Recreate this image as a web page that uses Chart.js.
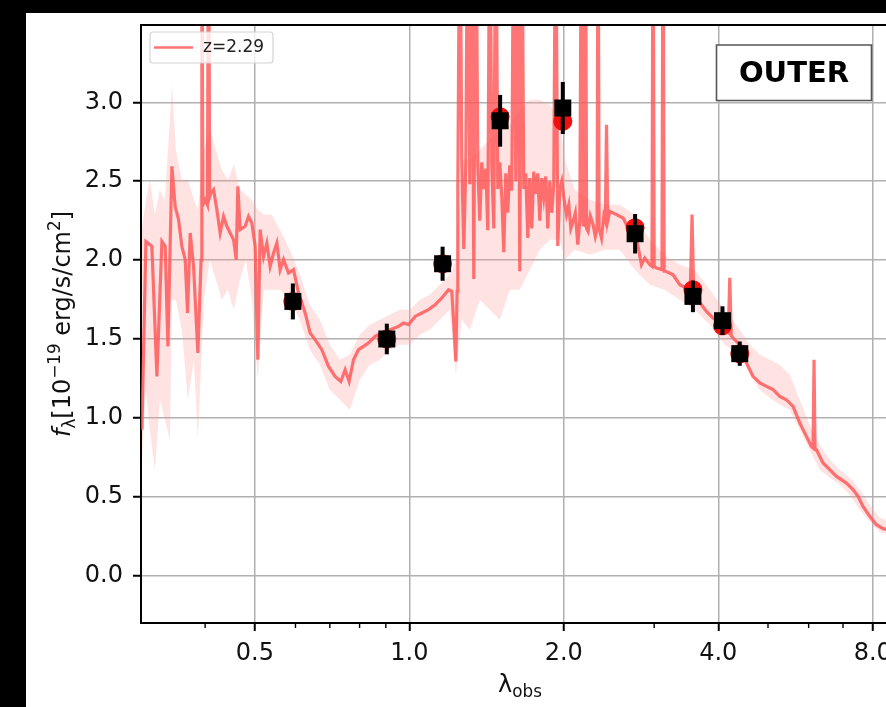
<!DOCTYPE html>
<html>
<head>
<meta charset="utf-8">
<script src="https://cdn.jsdelivr.net/npm/chart.js@4.4.1/dist/chart.umd.min.js"></script>
<style>
  html, body { margin: 0; padding: 0; background: #000; overflow: hidden; width: 886px; height: 707px; }
  #frame { position: absolute; left: 26px; top: 13px; width: 900px; height: 694px; background: #fff; }
  #sed { display: block; }
</style>
</head>
<body>
<div id="frame"><canvas id="sed" width="900" height="694"></canvas></div>
<script>
// observed-frame wavelength (micron) and model spectrum flux (1e-19 erg/s/cm2)
const specWave = [
  0.3012, 0.3067, 0.3150, 0.3222, 0.3295, 0.3344, 0.3385, 0.3446, 0.3497, 0.3551,
  0.3604, 0.3658, 0.3697, 0.3741, 0.3798, 0.3872, 0.3928, 0.3942, 0.3960, 0.4001,
  0.4041, 0.4063, 0.4082, 0.4105, 0.4155, 0.4217, 0.4279, 0.4345, 0.4410, 0.4476,
  0.4545, 0.4598, 0.4633, 0.4681, 0.4787, 0.4861, 0.4933, 0.5007, 0.5068, 0.5120,
  0.5199, 0.5277, 0.5355, 0.5438, 0.5519, 0.5601, 0.5687, 0.5816, 0.5948, 0.6083,
  0.6266, 0.6408, 0.6553, 0.6753, 0.6959, 0.7168, 0.7354, 0.7497, 0.7633, 0.7785,
  0.7961, 0.8142, 0.8327, 0.8576, 0.8838, 0.9173, 0.9526, 0.9742, 0.9964, 1.0264,
  1.0577, 1.0900, 1.1227, 1.1570, 1.1923, 1.2101, 1.2209, 1.2320, 1.2392,
  1.2431, 1.2543, 1.2656, 1.2770, 1.2885, 1.3001, 1.3118, 1.3236, 1.3355, 1.3476,
  1.3597, 1.3720, 1.3843, 1.3968, 1.4094, 1.4221, 1.4349, 1.4478, 1.4609, 1.4740,
  1.4873, 1.5007, 1.5142, 1.5279, 1.5416, 1.5555, 1.5695, 1.5837, 1.5980, 1.6124,
  1.6269, 1.6415, 1.6563, 1.6712, 1.6863, 1.7015, 1.7168, 1.7323, 1.7479, 1.7636,
  1.7795, 1.7955, 1.8117, 1.8280, 1.8445, 1.8611, 1.8779, 1.8948, 1.9119, 1.9291,
  1.9465, 1.9640, 1.9817, 1.9996,
  2.0245, 2.0454, 2.0640, 2.0853, 2.1060, 2.1297, 2.1489, 2.1654, 2.1809, 2.1956,
  2.2046, 2.2155, 2.2304, 2.2526, 2.2810, 2.3036, 2.3223, 2.3327, 2.3432, 2.3686,
  2.3930, 2.4093, 2.4224, 2.4365, 2.4584, 2.5334, 2.6095, 2.6891, 2.7712, 2.8341,
  2.8763, 2.9415, 2.9707, 2.9853, 3.0000, 3.0313, 3.1070, 3.1222, 3.1376, 3.1703,
  3.2655, 3.3651, 3.4679, 3.5274, 3.5560, 3.5830, 3.6269, 3.7933, 3.9677, 4.1502,
  4.1835, 4.2120, 4.2405, 4.2744, 4.4052, 4.5396, 4.6758, 4.8186, 4.9656, 5.1146,
  5.2709, 5.4317, 5.5946, 5.7655, 5.9414, 6.0762, 6.1196, 6.1473, 6.1750, 6.2139,
  6.4003, 6.5958, 6.7970, 7.1089, 7.3221, 7.4882, 7.6579, 7.8924, 8.1344, 8.3784,
  8.9493
];
const specFlux = [
  0.925, 2.118, 2.087, 1.263, 2.118, 2.087, 1.453, 2.594, 2.340, 2.256,
  2.087, 2.003, 1.665, 2.172, 1.960, 1.411, 2.000, 4.500, 2.350, 2.383,
  2.350, 4.500, 2.400, 2.425, 2.446, 2.319, 2.172, 2.277, 2.214, 2.172,
  2.129, 2.003, 2.467, 2.193, 2.214, 2.277, 2.235, 2.087, 1.369, 2.193,
  2.023, 2.108, 1.960, 2.045, 2.108, 1.939, 2.003, 1.918, 1.939, 1.791,
  1.665, 1.538, 1.496, 1.432, 1.326, 1.263, 1.231, 1.305, 1.231, 1.369,
  1.432, 1.453, 1.475, 1.517, 1.538, 1.559, 1.580, 1.601, 1.591, 1.643,
  1.665, 1.686, 1.717, 1.760, 1.812, 1.802, 1.591, 1.358, 1.802,
  2.450, 4.500, 2.600, 2.070, 2.620, 4.500, 2.480, 4.500, 1.880, 4.500,
  2.600, 2.250, 2.620, 2.450, 2.580, 2.190, 4.500, 2.600, 2.200, 4.500,
  2.450, 2.620, 2.400, 2.050, 2.550, 2.300, 2.600, 2.440, 4.500, 2.500,
  4.500, 1.930, 4.500, 2.450, 2.550, 2.140, 2.520, 2.200, 2.560, 2.420,
  2.550, 2.250, 2.520, 2.400, 2.530, 2.200, 2.500, 2.300, 2.480, 4.500,
  2.090, 2.450, 2.500, 2.400,
  2.288, 2.351, 2.200, 2.245, 2.300, 2.098, 2.250, 4.500, 2.224, 2.220,
  4.500, 2.200, 2.182, 2.280, 2.224, 2.150, 2.200, 4.500, 2.200, 2.140,
  2.280, 2.250, 2.858, 2.250, 2.309, 2.288, 2.267, 2.182, 2.140, 1.971,
  2.013, 1.971, 1.960, 4.500, 1.960, 1.950, 1.940, 4.500, 1.930, 1.928,
  1.907, 1.844, 1.823, 1.800, 2.288, 1.774, 1.760, 1.675, 1.612, 1.548,
  1.540, 1.888, 1.521, 1.506, 1.464, 1.348, 1.263, 1.221, 1.200, 1.179,
  1.136, 1.115, 1.073, 0.968, 0.883, 0.819, 0.810, 1.369, 0.800, 0.798,
  0.714, 0.672, 0.629, 0.587, 0.545, 0.503, 0.439, 0.376, 0.323, 0.298,
  0.279
];

// spread of the model spectrum (lower / upper envelope)
const bandWave = [
  0.3012, 0.3067, 0.3122, 0.3193, 0.3265, 0.3339, 0.3415, 0.3446, 0.3508, 0.3604,
  0.3702, 0.3803, 0.3872, 0.3978, 0.4086, 0.4198, 0.4312, 0.4430, 0.4550, 0.4675,
  0.4802, 0.4933, 0.5068, 0.5206, 0.5397, 0.5593, 0.5850, 0.6118, 0.6399, 0.6693,
  0.6999, 0.7321, 0.7656, 0.8008, 0.8375, 0.8759, 0.9161, 0.9581, 1.0022, 1.0483,
  1.0963, 1.1466, 1.1992, 1.2320, 1.2656, 1.3118, 1.3719, 1.4349, 1.5007, 1.5695,
  1.6415, 1.7168, 1.7956, 1.8779, 1.9641, 2.0091, 2.1012, 2.2475, 2.4039, 2.5712,
  2.7501, 2.9415, 3.1462, 3.3651, 3.5993, 3.8498, 4.1186, 4.4052, 4.6073, 4.8186,
  5.0397, 5.2709, 5.5126, 5.7655, 6.0299, 6.3066, 6.5958, 6.8984, 7.2148, 7.5458,
  7.8924, 8.2373, 9.0102
];
const bandHigh = [
  2.193, 2.383, 2.510, 2.288, 2.446, 2.383, 2.890, 3.112, 2.700, 2.510,
  2.510, 2.383, 2.319, 2.700, 2.826, 2.700, 2.573, 2.510, 2.605, 2.446,
  2.414, 2.383, 2.319, 2.288, 2.288, 2.193, 2.066, 1.907, 1.717, 1.622,
  1.464, 1.369, 1.401, 1.527, 1.591, 1.622, 1.654, 1.686, 1.686, 1.749,
  1.781, 1.844, 1.907, 2.003, 2.636, 2.636, 2.700, 2.763, 2.826, 2.858,
  2.953, 3.016, 3.016, 2.985, 2.890, 2.636, 2.446, 2.383, 2.351, 2.351,
  2.288, 2.129, 2.034, 1.971, 1.939, 1.812, 1.686, 1.559, 1.464, 1.401,
  1.369, 1.337, 1.274, 1.115, 0.957, 0.830, 0.735, 0.672, 0.621, 0.545,
  0.450, 0.368, 0.323
];
const bandLow = [
  0.735, 1.179, 0.925, 0.672, 1.115, 0.989, 0.862, 1.749, 1.749, 1.559,
  1.115, 1.369, 0.862, 1.749, 2.003, 1.876, 1.749, 1.812, 1.686, 1.876,
  2.003, 1.749, 1.242, 1.812, 1.812, 1.812, 1.749, 1.622, 1.432, 1.337,
  1.179, 1.115, 1.052, 1.242, 1.337, 1.369, 1.432, 1.464, 1.464, 1.527,
  1.559, 1.622, 1.686, 1.274, 1.622, 1.559, 1.749, 1.686, 1.622, 1.812,
  1.812, 1.939, 2.066, 2.129, 2.129, 2.003, 2.066, 2.034, 2.066, 2.066,
  1.939, 1.844, 1.812, 1.749, 1.686, 1.591, 1.464, 1.401, 1.274, 1.179,
  1.128, 1.084, 1.052, 0.925, 0.798, 0.672, 0.621, 0.577, 0.513, 0.418,
  0.342, 0.279, 0.241
];

// broad-band photometry: observed (black squares) and model (red circles)
const photWave  = [0.593, 0.904, 1.161, 1.503, 1.991, 2.754, 3.570, 4.076, 4.405];
const photFlux  = [1.738, 1.500, 1.977, 2.883, 2.964, 2.167, 1.770, 1.616, 1.407];
const photErr   = [0.114, 0.097, 0.108, 0.164, 0.165, 0.125, 0.100, 0.091, 0.077];
const modelFlux = [1.738, 1.500, 1.977, 2.909, 2.879, 2.205, 1.812, 1.584, 1.407];

const xMajor = [0.5, 1, 2, 4, 8];
const xMinor = [0.4, 0.6, 0.7, 0.8, 0.9, 3, 5, 6, 7];
const yTicks = [0, 0.5, 1, 1.5, 2, 2.5, 3];

const legendLabel = 'z=2.29';
const regionLabel = 'OUTER';

const FONT = '"DejaVu Sans", sans-serif';
const lineColor = 'rgba(255, 85, 85, 0.82)';
const gridColor = '#b0b0b0';

const pts = (xs, ys) => xs.map((v, i) => ({ x: v, y: ys[i] }));

// draws a run of text pieces (sub/superscripts) centred on the origin
function drawPieces(ctx, pieces) {
  let total = 0;
  pieces.forEach(p => { ctx.font = p.font; p.w = ctx.measureText(p.t).width; total += p.w; });
  let cx = -total / 2;
  pieces.forEach(p => {
    ctx.font = p.font;
    ctx.fillText(p.t, cx, p.dy);
    cx += p.w;
  });
}

const sedDecor = {
  id: 'sedDecor',
  afterDatasetsDraw(chart) {
    const { ctx, scales: { x, y } } = chart;
    ctx.save();
    ctx.strokeStyle = '#000';
    ctx.lineWidth = 4;
    photWave.forEach((w, i) => {
      const px = x.getPixelForValue(w);
      ctx.beginPath();
      ctx.moveTo(px, y.getPixelForValue(photFlux[i] - photErr[i]));
      ctx.lineTo(px, y.getPixelForValue(photFlux[i] + photErr[i]));
      ctx.stroke();
    });
    ctx.restore();
  },
  afterDraw(chart) {
    const { ctx, chartArea: a, scales: { x } } = chart;
    ctx.save();

    // top spine
    ctx.strokeStyle = '#000';
    ctx.lineWidth = 2;
    ctx.beginPath();
    ctx.moveTo(a.left - 1, a.top);
    ctx.lineTo(a.right + 1, a.top);
    ctx.stroke();

    // minor ticks on the log axis
    ctx.lineWidth = 1.4;
    xMinor.forEach(v => {
      const px = x.getPixelForValue(v);
      ctx.beginPath();
      ctx.moveTo(px, a.bottom);
      ctx.lineTo(px, a.bottom + 5);
      ctx.stroke();
    });

    // legend
    ctx.fillStyle = 'rgba(255,255,255,0.8)';
    ctx.strokeStyle = '#d4d4d4';
    ctx.lineWidth = 1.2;
    ctx.beginPath();
    ctx.roundRect(a.left + 9, a.top + 7, 123, 31, 3);
    ctx.fill();
    ctx.stroke();
    ctx.strokeStyle = lineColor;
    ctx.lineWidth = 2.5;
    ctx.beginPath();
    ctx.moveTo(a.left + 13, a.top + 22.5);
    ctx.lineTo(a.left + 52, a.top + 22.5);
    ctx.stroke();
    ctx.fillStyle = '#222';
    ctx.font = '17px ' + FONT;
    ctx.textBaseline = 'middle';
    ctx.fillText(legendLabel, a.left + 62, a.top + 23);

    // region tag
    ctx.fillStyle = '#fff';
    ctx.strokeStyle = '#555';
    ctx.lineWidth = 1.6;
    ctx.beginPath();
    ctx.rect(690.5, 32, 155, 55.5);
    ctx.fill();
    ctx.stroke();
    ctx.fillStyle = '#000';
    ctx.font = 'bold 29px ' + FONT;
    ctx.textAlign = 'center';
    ctx.fillText(regionLabel, 768, 61);

    // axis titles
    ctx.textBaseline = 'alphabetic';
    ctx.textAlign = 'left';
    ctx.fillStyle = '#111';
    ctx.save();
    ctx.translate((a.left + a.right) / 2, 679);
    drawPieces(ctx, [
      { t: 'λ', font: '24px ' + FONT, dy: 0 },
      { t: 'obs', font: '16.8px ' + FONT, dy: 5 }
    ]);
    ctx.restore();

    ctx.save();
    ctx.translate(44, (a.top + a.bottom) / 2);
    ctx.rotate(-Math.PI / 2);
    drawPieces(ctx, [
      { t: 'f', font: 'italic 24px ' + FONT, dy: 0 },
      { t: 'λ', font: '16.8px ' + FONT, dy: 5 },
      { t: '[10', font: '24px ' + FONT, dy: 0 },
      { t: '\u221219', font: '16.8px ' + FONT, dy: -10 },
      { t: ' erg/s/cm', font: '24px ' + FONT, dy: 0 },
      { t: '2', font: '16.8px ' + FONT, dy: -10 },
      { t: ']', font: '24px ' + FONT, dy: 0 }
    ]);
    ctx.restore();

    ctx.restore();
  }
};

new Chart(document.getElementById('sed'), {
  type: 'line',
  data: {
    datasets: [
      {
        label: 'observed',
        data: pts(photWave, photFlux),
        showLine: false,
        pointStyle: 'rect',
        pointRadius: 12,
        pointBackgroundColor: '#000',
        pointBorderWidth: 0
      },
      {
        label: 'model photometry',
        data: pts(photWave, modelFlux),
        showLine: false,
        pointStyle: 'circle',
        pointRadius: 9.5,
        pointBackgroundColor: '#f01010',
        pointBorderWidth: 0
      },
      {
        label: legendLabel,
        data: pts(specWave, specFlux),
        borderColor: lineColor,
        borderWidth: 3.2,
        pointRadius: 0,
        tension: 0
      },
      {
        label: 'upper',
        data: pts(bandWave, bandHigh),
        borderWidth: 0,
        pointRadius: 0,
        fill: '+1',
        backgroundColor: 'rgba(255, 150, 150, 0.28)'
      },
      {
        label: 'lower',
        data: pts(bandWave, bandLow),
        borderWidth: 0,
        pointRadius: 0
      }
    ]
  },
  options: {
    responsive: false,
    animation: false,
    layout: { padding: { left: 0, right: 27, top: 12, bottom: 0 } },
    plugins: { legend: { display: false }, tooltip: { enabled: false } },
    scales: {
      x: {
        type: 'logarithmic',
        min: 0.3,
        max: 9.0,
        afterBuildTicks: s => { s.ticks = xMajor.concat(xMinor).sort((p, q) => p - q).map(v => ({ value: v })); },
        afterFit: s => { s.height = 84; s.paddingLeft = 0; s.paddingRight = 0; },
        ticks: {
          autoSkip: false,
          maxRotation: 0,
          padding: 8,
          color: '#111',
          font: { family: FONT, size: 24 },
          callback: v => xMajor.includes(v) ? v.toFixed(1) : ''
        },
        grid: {
          color: c => (c.tick && xMajor.includes(c.tick.value)) ? gridColor : 'rgba(0,0,0,0)',
          lineWidth: 1.5,
          tickLength: 8,
          tickWidth: 2,
          tickColor: c => (c.tick && xMajor.includes(c.tick.value)) ? '#000' : 'rgba(0,0,0,0)'
        },
        border: { color: '#000', width: 2 }
      },
      y: {
        type: 'linear',
        min: -0.3,
        max: 3.49,
        afterBuildTicks: s => { s.ticks = yTicks.map(v => ({ value: v })); },
        afterFit: s => { s.width = 115; s.paddingTop = 0; s.paddingBottom = 0; },
        ticks: {
          padding: 10,
          color: '#111',
          font: { family: FONT, size: 24 },
          callback: v => v.toFixed(1)
        },
        grid: { color: gridColor, lineWidth: 1.5, tickLength: 8, tickWidth: 2, tickColor: '#000' },
        border: { color: '#000', width: 2 }
      }
    }
  },
  plugins: [sedDecor]
});
</script>
</body>
</html>
